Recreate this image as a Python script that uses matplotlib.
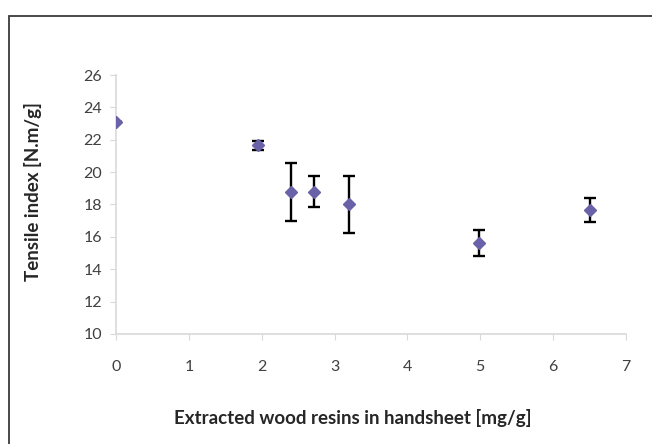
import numpy as np
import matplotlib.pyplot as plt
from matplotlib.patches import Rectangle

# wood resin content vs tensile index
resin = [0.0, 1.95, 2.4, 2.72, 3.2, 4.98, 6.5]
tensile = [23.1, 21.65, 18.75, 18.8, 18.0, 15.6, 17.65]
tensile_err = [0.0, 0.3, 1.8, 0.95, 1.75, 0.8, 0.75]

plt.rcParams['font.family'] = ['Lato', 'DejaVu Sans']

fig = plt.figure(figsize=(6.52, 4.44), dpi=100)
ax = fig.add_axes([0.178, 0.248, 0.782, 0.583])

# frame round the chart area
fig.patches.append(Rectangle((9 / 652, -0.1), 1.2, 1 - 16 / 444 + 0.1,
                             transform=fig.transFigure, fill=False,
                             edgecolor='#3a3a3a', linewidth=1.3))

ax.errorbar(resin, tensile, yerr=tensile_err, fmt='none', ecolor='black',
            elinewidth=1.7, capsize=4, capthick=1.7, zorder=2)
ax.plot(resin, tensile, linestyle='none', marker='D', markersize=6.5,
        color='#6a62a8', zorder=3)

ax.set_xlim(0, 7)
ax.set_ylim(10, 26)
ax.set_xticks(np.arange(0, 8, 1))
ax.set_yticks(np.arange(10, 27, 2))

for s in ['top', 'right']:
    ax.spines[s].set_visible(False)
for s in ['left', 'bottom']:
    ax.spines[s].set_color('#d9d9d9')
    ax.spines[s].set_linewidth(1.2)

ax.tick_params(axis='x', colors='#d9d9d9', labelcolor='#404040', length=4,
               pad=15, labelsize=11.5)
ax.tick_params(axis='y', colors='#d9d9d9', labelcolor='#404040', length=4,
               pad=6, labelsize=11.5)

ax.set_xlabel('Extracted wood resins in handsheet [mg/g]', fontsize=13.5,
              fontweight='bold', color='#262626')
ax.set_ylabel('Tensile index [N.m/g]', fontsize=13.5, fontweight='bold',
              color='#262626')
ax.xaxis.set_label_coords(0.465, -0.29)
ax.yaxis.set_label_coords(-0.145, 0.55)

fig.savefig('out.png', dpi=100)
